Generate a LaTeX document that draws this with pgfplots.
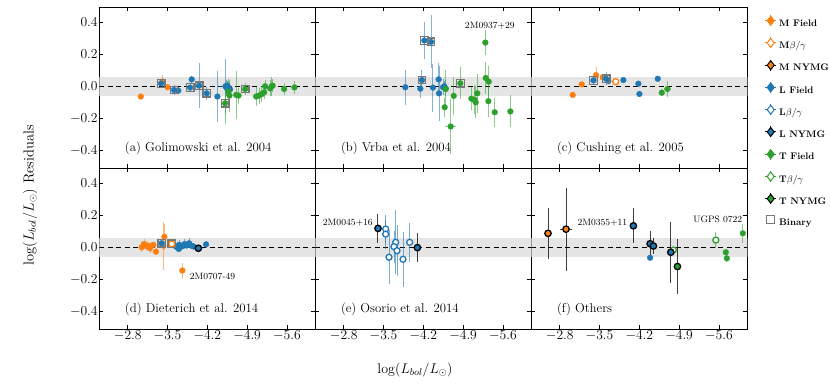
\RequirePackage{fix-cm}
\documentclass[border=0pt]{standalone}
\usepackage{pgfplots}
\pgfplotsset{compat=1.18}
\definecolor{cO}{RGB}{255,127,14}
\definecolor{cB}{RGB}{31,119,180}
\definecolor{cG}{RGB}{44,160,44}
\definecolor{band}{RGB}{229,229,229}
\definecolor{binc}{RGB}{120,120,120}

\pgfplotsset{
  panel/.style={scale only axis, width=216pt, height=161pt, anchor=south west,
    x dir=reverse, xmin=-6.1, xmax=-2.3, ymin=-0.51, ymax=0.495,
    xtick={-2.8,-3.5,-4.2,-4.9,-5.6}, ytick={-0.4,-0.2,0,0.2,0.4},
    tick align=inside, major tick length=4pt,
    tick style={black, line width=0.6pt},
    axis line style={line width=0.8pt},
    /pgf/number format/fixed, /pgf/number format/fixed zerofill, /pgf/number format/precision=1,
    ticklabel style={font=\fontsize{13.6}{16}\selectfont, inner sep=1.5pt},
    clip=true},
  fieldS/.style={only marks, mark=*, mark size=2.9pt, color=#1,
    mark options={solid, fill=#1, draw=#1, line width=0.3pt},
    error bars/.cd, x dir=both, x explicit, y dir=both, y explicit, error mark=none,
    error bar style={color=#1, line width=1pt, opacity=0.55}},
  openS/.style={only marks, mark=*, mark size=3pt, color=#1,
    mark options={solid, fill=white, draw=#1, line width=1.3pt},
    error bars/.cd, x dir=both, x explicit, y dir=both, y explicit, error mark=none,
    error bar style={color=#1, line width=1pt, opacity=0.6}},
  nymgS/.style={only marks, mark=*, mark size=3.2pt, color=#1,
    mark options={solid, fill=#1, draw=black, line width=1.3pt},
    error bars/.cd, x dir=both, x explicit, y dir=both, y explicit, error mark=none,
    error bar style={color=black, line width=1pt, opacity=0.75}},
  binS/.style={only marks, mark=square, mark size=3.8pt,
    mark options={solid, draw=binc, line width=1.3pt}},
  legdia/.style n args={3}{legend image code/.code={
    \draw[#1, line width=1pt] (5.5pt,-2.5pt)--(5.5pt,8.5pt) (0pt,3pt)--(11pt,3pt);
    \path[draw=#3, fill=#2, line width=1pt] (5.5pt,7.5pt)--(9pt,3pt)--(5.5pt,-1.5pt)--(2pt,3pt)--cycle;}},
  legsq/.style={legend image code/.code={
    \draw[binc, line width=1.2pt, fill=white] (1.5pt,-1pt) rectangle (9.5pt,7pt);}},
}

\newcommand{\bg}{%
  \addplot[draw=none, fill=band, forget plot] coordinates {(-2,-0.058) (-7,-0.058) (-7,0.058) (-2,0.058)};
  \addplot[black, line width=1.1pt, dash pattern=on 5pt off 3.5pt, forget plot] coordinates {(-2,0) (-7,0)};
}
\newcommand{\plab}[1]{\node[anchor=west, font=\fontsize{12.8}{15}\selectfont] at (axis cs:-2.69,-0.385) {#1};}
\newcommand{\alab}[1]{\fontsize{9.3}{11}\selectfont #1}

\begin{document}
\begin{tikzpicture}
\path[use as bounding box] (0pt,0pt) rectangle (830pt,388pt);

% ---------------- (a)
\begin{axis}[panel, at={(99.3pt,220pt)}, xticklabels={}]
\bg
\addplot[fieldS=cO] table[x=x,y=y,x error=ex,y error=ey,row sep=\\] {
x y ex ey\\
-3.03 -0.064 0.01 0.01\\
-3.41 0.03 0.01 0.04\\
-3.50 -0.006 0.01 0.015\\
};
\addplot[fieldS=cB] table[x=x,y=y,x error=ex,y error=ey,row sep=\\] {
x y ex ey\\
-3.387 0.018 0.02 0.02\\
-3.615 -0.023 0.02 0.03\\
-3.69 -0.027 0.02 0.02\\
-3.926 0.043 0.02 0.02\\
-3.897 -0.008 0.02 0.03\\
-4.055 0.004 0.02 0.14\\
-4.19 -0.044 0.02 0.04\\
-4.378 -0.064 0.02 0.16\\
-4.52 0.0 0.12 0.17\\
-4.554 0.004 0.02 0.03\\
-4.60 -0.019 0.02 0.03\\
-4.54 -0.01 0.02 0.05\\
};
\addplot[fieldS=cG] table[x=x,y=y,x error=ex,y error=ey,row sep=\\] {
x y ex ey\\
-4.513 -0.106 0.02 0.13\\
-4.572 -0.033 0.02 0.08\\
-4.59 -0.058 0.02 0.10\\
-4.707 -0.054 0.02 0.15\\
-4.75 -0.058 0.02 0.05\\
-4.865 -0.017 0.02 0.04\\
-5.059 -0.064 0.02 0.06\\
-5.11 -0.058 0.02 0.05\\
-5.159 -0.048 0.02 0.05\\
-5.20 -0.038 0.02 0.04\\
-5.217 0.0 0.02 0.04\\
-5.305 -0.013 0.02 0.05\\
-5.335 0.0 0.02 0.06\\
-5.35 0.004 0.02 0.04\\
-5.552 -0.017 0.02 0.04\\
-5.733 -0.007 0.02 0.04\\
};
\addplot[binS] coordinates {(-3.387,0.018) (-3.615,-0.023) (-3.897,-0.008) (-4.055,0.004) (-4.19,-0.044) (-4.513,-0.106) (-4.865,-0.017)};
\plab{(a) Golimowski et al. 2004}
\end{axis}

% ---------------- (b)
\begin{axis}[panel, at={(315.3pt,220pt)}, xticklabels={}, yticklabels={}]
\bg
\addplot[fieldS=cB] table[x=x,y=y,x error=ex,y error=ey,row sep=\\] {
x y ex ey\\
-3.884 -0.006 0.02 0.11\\
-4.148 -0.015 0.02 0.06\\
-4.177 0.039 0.02 0.06\\
-4.218 0.286 0.02 0.115\\
-4.336 0.277 0.02 0.165\\
-4.37 -0.008 0.02 0.15\\
-4.47 0.043 0.02 0.10\\
-4.477 -0.044 0.02 0.17\\
-4.547 -0.006 0.02 0.05\\
-4.594 -0.013 0.02 0.05\\
-4.57 0.0 0.02 0.03\\
};
\addplot[fieldS=cG] table[x=x,y=y,x error=ex,y error=ey,row sep=\\] {
x y ex ey\\
-4.594 -0.017 0.02 0.12\\
-4.576 -0.131 0.02 0.06\\
-4.682 -0.251 0.10 0.17\\
-4.735 -0.06 0.02 0.12\\
-4.852 0.019 0.02 0.10\\
-5.046 -0.077 0.02 0.07\\
-5.104 -0.085 0.02 0.09\\
-5.122 -0.10 0.02 0.10\\
-5.15 -0.044 0.02 0.12\\
-5.292 0.273 0.02 0.08\\
-5.298 0.052 0.02 0.10\\
-5.351 0.029 0.02 0.10\\
-5.345 -0.093 0.02 0.10\\
-5.457 -0.162 0.02 0.09\\
-5.732 -0.157 0.02 0.10\\
};
\addplot[binS] coordinates {(-4.177,0.039) (-4.218,0.286) (-4.336,0.277) (-4.852,0.019)};
\node[font=\alab{}] at (axis cs:-5.37,0.38) {2M0937+29};
\plab{(b) Vrba et al. 2004}
\end{axis}

% ---------------- (c)
\begin{axis}[panel, at={(531.3pt,220pt)}, xticklabels={}, yticklabels={}]
\bg
\addplot[fieldS=cO] table[x=x,y=y,x error=ex,y error=ey,row sep=\\] {
x y ex ey\\
-3.028 -0.054 0.02 0.01\\
-3.187 0.012 0.02 0.01\\
-3.439 0.07 0.02 0.05\\
-3.556 0.056 0.02 0.02\\
};
\addplot[openS=cO] table[x=x,y=y,x error=ex,y error=ey,row sep=\\] {
x y ex ey\\
-3.785 0.029 0.02 0.01\\
};
\addplot[fieldS=cB] table[x=x,y=y,x error=ex,y error=ey,row sep=\\] {
x y ex ey\\
-3.392 0.037 0.02 0.02\\
-3.615 0.047 0.02 0.04\\
-3.656 0.033 0.02 0.02\\
-3.92 0.039 0.02 0.01\\
-4.184 0.016 0.02 0.01\\
-4.202 -0.048 0.02 0.01\\
-4.525 0.047 0.02 0.01\\
};
\addplot[fieldS=cG] table[x=x,y=y,x error=ex,y error=ey,row sep=\\] {
x y ex ey\\
-4.595 -0.04 0.02 0.02\\
-4.695 -0.017 0.06 0.05\\
};
\addplot[binS] coordinates {(-3.392,0.037) (-3.615,0.047)};
\plab{(c) Cushing et al. 2005}
\end{axis}

% ---------------- (d)
\begin{axis}[panel, at={(99.3pt,59pt)}]
\bg
\addplot[fieldS=cO] table[x=x,y=y,x error=ex,y error=ey,row sep=\\] {
x y ex ey\\
-3.045 0.0 0.04 0.03\\
-3.087 0.02 0.04 0.03\\
-3.13 0.008 0.04 0.03\\
-3.16 0.01 0.03 0.02\\
-3.192 -0.006 0.03 0.03\\
-3.251 0.015 0.03 0.02\\
-3.298 -0.027 0.02 0.02\\
-3.445 0.066 0.02 0.08\\
-3.427 0.01 0.02 0.15\\
-3.761 -0.145 0.02 0.05\\
};
\addplot[fieldS=cB] table[x=x,y=y,x error=ex,y error=ey,row sep=\\] {
x y ex ey\\
-3.397 0.025 0.02 0.02\\
-3.63 0.01 0.03 0.02\\
-3.67 0.0 0.03 0.03\\
-3.70 -0.01 0.03 0.02\\
-3.71 0.015 0.03 0.03\\
-3.75 0.005 0.03 0.02\\
-3.80 0.02 0.03 0.03\\
-3.84 0.012 0.03 0.02\\
-3.88 0.025 0.03 0.03\\
-3.92 0.01 0.03 0.02\\
-3.96 0.005 0.03 0.02\\
-4.178 0.018 0.02 0.02\\
};
\addplot[openS=cO] table[x=x,y=y,x error=ex,y error=ey,row sep=\\] {
x y ex ey\\
-3.574 0.021 0.01 0.01\\
};
\addplot[nymgS=cB] table[x=x,y=y,x error=ex,y error=ey,row sep=\\] {
x y ex ey\\
-4.043 -0.006 0.02 0.01\\
};
\addplot[binS] coordinates {(-3.397,0.025) (-3.574,0.021)};
\node[anchor=west, font=\alab{}] at (axis cs:-3.83,-0.184) {2M0707-49};
\plab{(d) Dieterich et al. 2014}
\end{axis}

% ---------------- (e)
\begin{axis}[panel, at={(315.3pt,59pt)}, yticklabels={}]
\bg
\addplot[openS=cB] table[x=x,y=y,x error=ex,y error=ey,row sep=\\] {
x y ex ey\\
-3.538 0.114 0.02 0.09\\
-3.538 0.082 0.02 0.09\\
-3.597 -0.062 0.02 0.17\\
-3.714 0.031 0.02 0.20\\
-3.685 0.004 0.02 0.10\\
-3.738 -0.021 0.02 0.16\\
-3.843 -0.075 0.02 0.17\\
-3.96 0.031 0.02 0.12\\
};
\addplot[nymgS=cB] table[x=x,y=y,x error=ex,y error=ey,row sep=\\] {
x y ex ey\\
-3.403 0.118 0.02 0.09\\
-4.096 -0.002 0.02 0.09\\
};
\node[anchor=east, font=\alab{}] at (axis cs:-3.37,0.155) {2M0045+16};
\plab{(e) Osorio et al. 2014}
\end{axis}

% ---------------- (f)
\begin{axis}[panel, at={(531.3pt,59pt)}, yticklabels={}]
\bg
\addplot[fieldS=cB] table[x=x,y=y,x error=ex,y error=ey,row sep=\\] {
x y ex ey\\
-4.39 -0.065 0.0 0.0\\
};
\addplot[openS=cG] table[x=x,y=y,x error=ex,y error=ey,row sep=\\] {
x y ex ey\\
-4.80 -0.017 0.02 0.02\\
-5.546 0.045 0.02 0.05\\
};
\addplot[fieldS=cG] table[x=x,y=y,x error=ex,y error=ey,row sep=\\] {
x y ex ey\\
-5.722 -0.031 0.01 0.01\\
-5.74 -0.069 0.01 0.02\\
-6.021 0.087 0.01 0.06\\
};
\addplot[nymgS=cO] table[x=x,y=y,x error=ex,y error=ey,row sep=\\] {
x y ex ey\\
-2.594 0.087 0.05 0.16\\
-2.911 0.113 0.10 0.26\\
};
\addplot[nymgS=cB] table[x=x,y=y,x error=ex,y error=ey,row sep=\\] {
x y ex ey\\
-4.096 0.134 0.02 0.11\\
-4.39 0.022 0.02 0.08\\
-4.449 0.008 0.02 0.05\\
-4.754 -0.031 0.05 0.19\\
};
\addplot[nymgS=cG] table[x=x,y=y,x error=ex,y error=ey,row sep=\\] {
x y ex ey\\
-4.871 -0.12 0.02 0.17\\
};
\node[anchor=east, font=\alab{}] at (axis cs:-4.05,0.155) {2M0355+11};
\node[font=\alab{}] at (axis cs:-5.58,0.174) {UGPS 0722};
\plab{(f) Others}
\end{axis}

% ---------------- legend
\begin{axis}[scale only axis, width=216pt, height=161pt, anchor=south west, at={(531.3pt,220pt)},
  hide axis, xmin=0, xmax=1, ymin=0, ymax=1,
  legend style={at={(axis description cs:1,1)}, anchor=north west, xshift=17.2pt, yshift=-7.5pt,
    draw=none, fill=none, inner sep=0pt, row sep=7.5pt, column sep=1.5pt,
    font=\bfseries\fontsize{9.5}{11}\selectfont,
    nodes={inner sep=1pt, text height=7.5pt, text depth=2pt}},
  legend cell align=left]
\addlegendimage{legdia={cO}{cO}{cO}}\addlegendentry{M Field}
\addlegendimage{legdia={cO}{white}{cO}}\addlegendentry{M$\beta/\gamma$}
\addlegendimage{legdia={black}{cO}{black}}\addlegendentry{M NYMG}
\addlegendimage{legdia={cB}{cB}{cB}}\addlegendentry{L Field}
\addlegendimage{legdia={cB}{white}{cB}}\addlegendentry{L$\beta/\gamma$}
\addlegendimage{legdia={black}{cB}{black}}\addlegendentry{L NYMG}
\addlegendimage{legdia={cG}{cG}{cG}}\addlegendentry{T Field}
\addlegendimage{legdia={cG}{white}{cG}}\addlegendentry{T$\beta/\gamma$}
\addlegendimage{legdia={black}{cG}{black}}\addlegendentry{T NYMG}
\addlegendimage{legsq}\addlegendentry{Binary}
\end{axis}

\node[rotate=90, font=\fontsize{14.5}{17}\selectfont] at (30pt,192.5pt) {$\log(L_{bol}/L_{\odot})$ Residuals};
\node[font=\fontsize{14}{16}\selectfont] at (415pt,18pt) {$\log(L_{bol}/L_{\odot})$};
\end{tikzpicture}
\end{document}
